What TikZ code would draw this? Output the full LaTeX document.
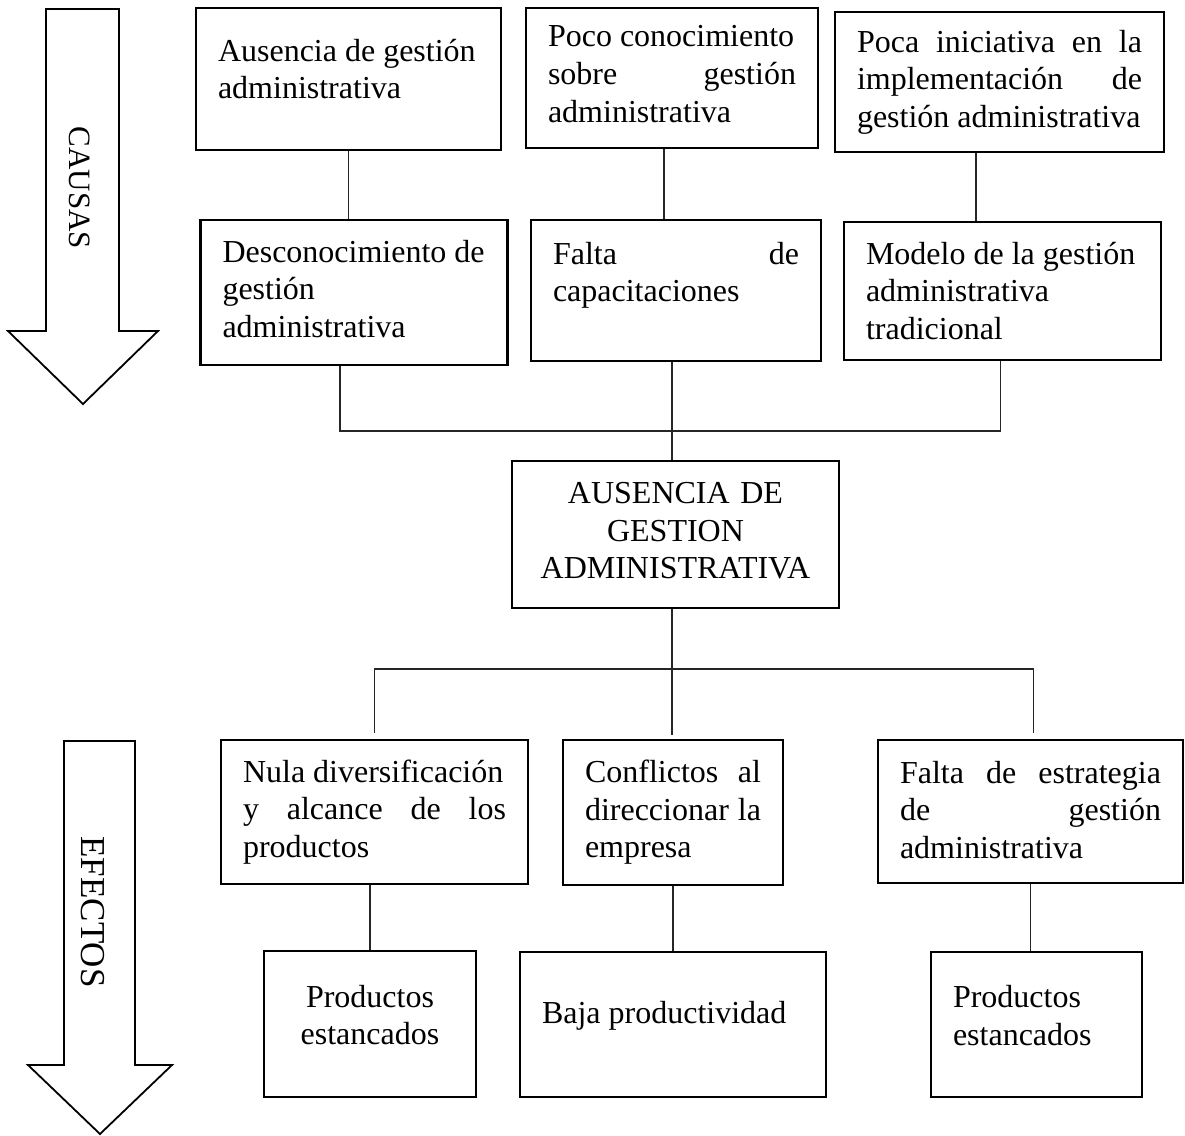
\documentclass[tikz,border=0pt]{standalone}
\usepackage{fontspec}
\setmainfont{Liberation Serif}
\usepackage{tikz}

\newcommand{\holgura}[1]{\rule[-#1]{0pt}{0pt}}

\tikzset{
    caja/.style={draw, line width=1.3pt, inner xsep=11pt, inner ysep=0pt, align=justify,
        font=\fontsize{16pt}{18.8pt}\selectfont},
    linea/.style={line width=0.6pt, black!85},
    flecha/.style={draw, line width=0.9pt, line join=miter},
    rotulo/.style={rotate=-90, inner sep=0pt}
}

\begin{document}
\begin{tikzpicture}[x=0.5pt, y=-0.5pt]
    \useasboundingbox (0,0) rectangle (1185,1136);

    \draw[flecha] (46,9) -- (119,9) -- (119,331) -- (158,331) -- (83,404) -- (8,331) -- (46,331) -- cycle;
    \node[rotulo, font=\fontsize{15.5pt}{18pt}\selectfont] (causas) at (80,188) {CAUSAS};
    \draw[flecha] (64,741) -- (135,741) -- (135,1065) -- (172,1065) -- (100,1134) -- (28,1065) -- (64,1065) -- cycle;
    \node[rotulo, font=\fontsize{17.5pt}{20pt}\selectfont] (efectos) at (93,912) {EFECTOS};

    \node[caja, text width=130.5pt, minimum height=71pt] (ausencia) at (348.5,79)
        {Ausencia de gestión\\administrativa\holgura{10pt}};
    \node[caja, text width=124pt, minimum height=70pt] (poco) at (672,78)
        {Poco conocimiento\\sobre\hfill gestión\\administrativa\holgura{4pt}};
    \node[caja, text width=142.5pt, minimum height=70pt] (poca) at (999.5,82)
        {Poca\hfill iniciativa\hfill en\hfill la\\implementación\hfill de\\gestión administrativa};

    \node[caja, text width=131.5pt, minimum height=72.5pt] (descon) at (354,292.5)
        {Desconocimiento de\\gestión\\administrativa\holgura{4pt}};
    \node[caja, text width=123pt, minimum height=70.5pt] (falta) at (676,290.5)
        {Falta\hfill de\\capacitaciones\\\mbox{}};
    \node[caja, text width=136.5pt, minimum height=69pt] (modelo) at (1002.5,291)
        {Modelo de la gestión\\administrativa\\tradicional};

    \node[caja, align=center, text width=141.5pt, minimum height=73.5pt] (problema) at (675.5,534.5)
        {AUSENCIA DE\\GESTION\\ADMINISTRATIVA\holgura{4pt}};

    \node[caja, text width=131.5pt, minimum height=72pt] (nula) at (374.5,812)
        {Nula diversificación\\y\hfill alcance\hfill de\hfill los\\productos};
    \node[caja, text width=88pt, minimum height=72.5pt] (conflictos) at (673,812.5)
        {Conflictos\hfill al\\direccionar\hfill la\\empresa};
    \node[caja, text width=130.5pt, minimum height=71.5pt] (estrategia) at (1030.5,811.5)
        {Falta\hfill de\hfill estrategia\\de\hfill gestión\\administrativa\holgura{2pt}};

    \node[caja, align=center, text width=84pt, minimum height=73pt] (estancados1) at (370,1024)
        {Productos\\estancados\holgura{9pt}};
    \node[caja, text width=131pt, minimum height=72.5pt] (baja) at (673,1024.5)
        {Baja productividad\holgura{12.5pt}};
    \node[caja, text width=83.5pt, minimum height=72.5pt] (estancados2) at (1036.5,1024.5)
        {Productos\\estancados\holgura{9pt}};

    \coordinate (cima) at (672,431);
    \coordinate (base) at (672,669);

    \draw[linea] (ausencia.south) -- (ausencia.south |- descon.north);
    \draw[linea] ([xshift=-4pt]poco.south) -- ([xshift=-4pt]poco.south |- falta.north);
    \draw[linea] ([xshift=-11.75pt]poca.south) -- ([xshift=-11.75pt]poca.south |- modelo.north);

    \draw[linea] ([xshift=-7pt]descon.south) |- (cima) -| ([xshift=-1pt]modelo.south);
    \draw[linea] (falta.south -| cima) -- (problema.north -| cima);
    \draw[linea] (problema.south -| base) -- (base);
    \draw[linea] ([yshift=3pt]nula.north) |- (base) -| ([yshift=3pt,xshift=1.5pt]estrategia.north);
    \draw[linea] (base) -- ([yshift=2pt]conflictos.north -| base);

    \draw[linea] (estancados1.north |- nula.south) -- (estancados1.north);
    \draw[linea] (conflictos.south) -- (conflictos.south |- baja.north);
    \draw[linea] (estrategia.south) -- (estrategia.south |- estancados2.north);
\end{tikzpicture}
\end{document}
